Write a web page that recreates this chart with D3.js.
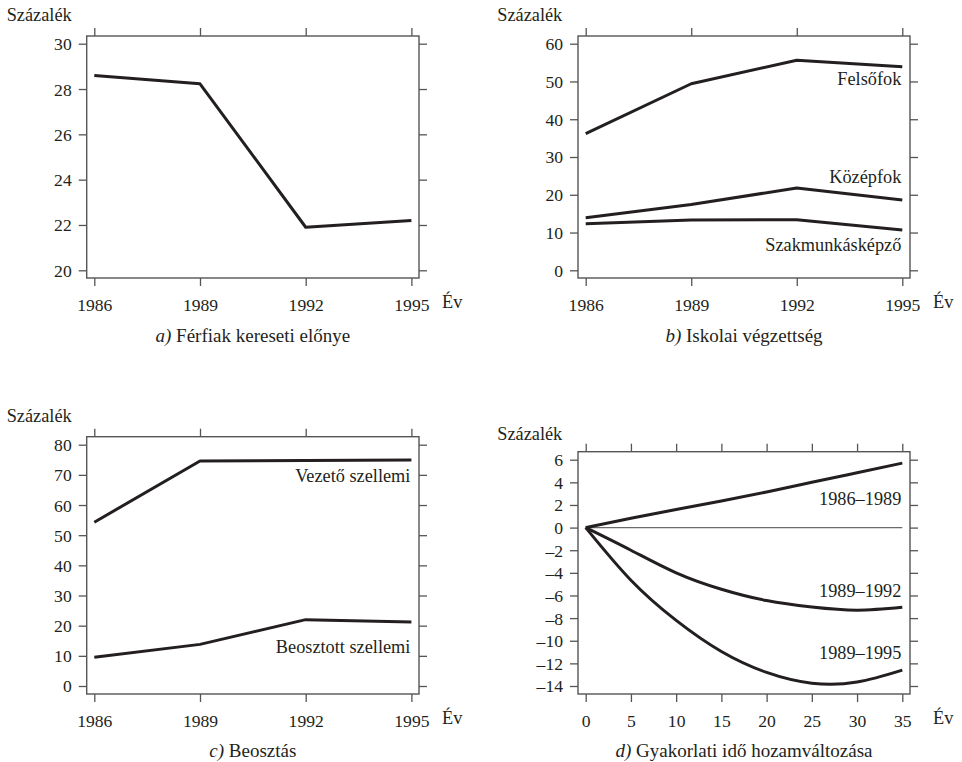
<!DOCTYPE html>
<html>
<head>
<meta charset="utf-8">
<script src="https://cdn.jsdelivr.net/npm/d3@7"></script>
<style>
  html, body { margin: 0; padding: 0; background: #fff; }
</style>
</head>
<body>
<svg id="chart" width="962" height="762"></svg>
<script>
// ---- data ----
const years = [1986, 1989, 1992, 1995];

// a) Férfiak kereseti előnye
const ferfiElony = [28.6, 28.23, 21.9, 22.2];

// b) Iskolai végzettség
const felsofok = [36.2, 49.4, 55.6, 53.9];
const kozepfok = [13.9, 17.4, 21.8, 18.6];
const szakmunkas = [12.3, 13.3, 13.4, 10.7];

// c) Beosztás
const vezetoSzellemi = [54.3, 74.6, 74.8, 74.9];
const beosztottSzellemi = [9.5, 13.8, 22.0, 21.2];

// d) Gyakorlati idő hozamváltozása
const gyakorlat = [0, 5, 10, 15, 20, 25, 30, 35];
const valt8689 = [0, 0.82, 1.6, 2.35, 3.15, 4.0, 4.85, 5.7];
const valt8992 = [0, -2.0, -4.0, -5.45, -6.45, -7.02, -7.3, -7.05];
const valt8995 = [0, -4.65, -8.2, -10.95, -12.8, -13.75, -13.65, -12.6];

// tick labels
const yTicksA = [20, 22, 24, 26, 28, 30];
const yTicksB = [0, 10, 20, 30, 40, 50, 60];
const yTicksC = [0, 10, 20, 30, 40, 50, 60, 70, 80];
const yTicksD = [-14, -12, -10, -8, -6, -4, -2, 0, 2, 4, 6];
const xTicksD = [0, 5, 10, 15, 20, 25, 30, 35];

const yLabel = "Százalék";
const xLabel = "Év";

// ---- drawing ----
const SERIF = "'Liberation Serif'";
const svg = d3.select("#chart");
const INK = "#231f20";
const FRAME = "#555";
const FS_TICK = 17.6;   // tick numbers
const FS_TEXT = 18.3;   // axis titles and line labels
const FS_CAP = 19;      // panel captions

function txt(sel, size) {
  return sel.style("font-family", SERIF).style("font-size", size + "px").attr("fill", INK);
}

function panel(opt) {
  const g = svg.append("g");
  const f = opt.frame; // frame box {x0, y0, x1, y1}
  const pad = opt.pad;
  const x = d3.scaleLinear().domain(opt.xDomain).range([f.x0 + pad.x, f.x1 - pad.x]);
  const y = d3.scaleLinear().domain(opt.yDomain).range([f.y1 - pad.y, f.y0 + pad.y]);

  // ticks on all four sides, pointing outward
  const T = 8;
  const axisStyle = sel => {
    sel.attr("font-family", null).attr("font-size", null);
    sel.select(".domain").remove();
    sel.selectAll(".tick line").attr("stroke", FRAME).attr("stroke-width", 1.3);
    txt(sel.selectAll(".tick text"), FS_TICK);
  };
  g.append("g").attr("transform", `translate(${f.x0},0)`)
    .call(d3.axisLeft(y).tickValues(opt.yTicks).tickSize(T).tickPadding(7)
      .tickFormat(d => d < 0 ? "–" + Math.abs(d) : String(d)))
    .call(axisStyle)
    .selectAll(".tick text").attr("dy", "0.34em");
  g.append("g").attr("transform", `translate(${f.x1},0)`)
    .call(d3.axisRight(y).tickValues(opt.yTicks).tickSize(T).tickFormat(""))
    .call(axisStyle);
  g.append("g").attr("transform", `translate(0,${f.y1})`)
    .call(d3.axisBottom(x).tickValues(opt.xTicks).tickSize(T).tickPadding(13)
      .tickFormat(d => String(d)))
    .call(axisStyle);
  g.append("g").attr("transform", `translate(0,${f.y0})`)
    .call(d3.axisTop(x).tickValues(opt.xTicks).tickSize(T).tickFormat(""))
    .call(axisStyle);

  // frame
  g.append("rect")
    .attr("x", f.x0).attr("y", f.y0)
    .attr("width", f.x1 - f.x0).attr("height", f.y1 - f.y0)
    .attr("fill", "none").attr("stroke", FRAME).attr("stroke-width", 1.4);

  // reference line
  if (opt.zeroLine) {
    g.append("line")
      .attr("x1", x(opt.xDomain[0])).attr("x2", x(opt.xDomain[1]))
      .attr("y1", y(0)).attr("y2", y(0))
      .attr("stroke", "#6a6a6a").attr("stroke-width", 1.2);
  }

  // series
  const line = d3.line().x(d => x(d[0])).y(d => y(d[1])).curve(opt.curve || d3.curveLinear);
  opt.series.forEach(s => {
    g.append("path")
      .datum(opt.xs.map((v, i) => [v, s.values[i]]))
      .attr("d", line)
      .attr("fill", "none").attr("stroke", INK)
      .attr("stroke-width", 3).attr("stroke-linejoin", "round");
    if (s.label) {
      txt(g.append("text"), FS_TEXT)
        .attr("x", x(opt.xDomain[1]) - 1)
        .attr("y", y(s.labelAt))
        .attr("text-anchor", "end")
        .text(s.label);
    }
  });

  // axis titles
  txt(g.append("text"), FS_TEXT).attr("x", opt.yTitle.x).attr("y", opt.yTitle.y).text(yLabel);
  txt(g.append("text"), FS_TEXT).attr("x", f.x1 + 23).attr("y", f.y1 + 30).text(xLabel);

  // caption
  const cap = txt(g.append("text"), FS_CAP)
    .attr("x", (f.x0 + f.x1) / 2).attr("y", opt.captionY)
    .attr("text-anchor", "middle");
  cap.append("tspan").style("font-style", "italic").text(opt.captionLetter);
  cap.append("tspan").text(" " + opt.caption);
}

panel({
  frame: { x0: 86.7, y0: 36, x1: 419, y1: 278 },
  pad: { x: 7.6, y: 7.7 },
  xDomain: [1986, 1995], yDomain: [20, 30],
  xs: years, xTicks: years, yTicks: yTicksA,
  series: [{ values: ferfiElony }],
  yTitle: { x: 6.7, y: 21 },
  captionY: 342, captionLetter: "a)", caption: "Férfiak kereseti előnye"
});

panel({
  frame: { x0: 578, y0: 36, x1: 910, y1: 278 },
  pad: { x: 7.7, y: 7.7 },
  xDomain: [1986, 1995], yDomain: [0, 60],
  xs: years, xTicks: years, yTicks: yTicksB,
  series: [
    { values: felsofok, label: "Felsőfok", labelAt: 49 },
    { values: kozepfok, label: "Középfok", labelAt: 23 },
    { values: szakmunkas, label: "Szakmunkásképző", labelAt: 5.1 }
  ],
  yTitle: { x: 497.3, y: 21 },
  captionY: 342, captionLetter: "b)", caption: "Iskolai végzettség"
});

panel({
  frame: { x0: 86.7, y0: 436.7, x1: 419, y1: 694 },
  pad: { x: 7.6, y: 8 },
  xDomain: [1986, 1995], yDomain: [0, 80],
  xs: years, xTicks: years, yTicks: yTicksC,
  series: [
    { values: vezetoSzellemi, label: "Vezető szellemi", labelAt: 67.6 },
    { values: beosztottSzellemi, label: "Beosztott szellemi", labelAt: 11 }
  ],
  yTitle: { x: 6.7, y: 421.7 },
  captionY: 756.7, captionLetter: "c)", caption: "Beosztás"
});

panel({
  frame: { x0: 578, y0: 451.7, x1: 910, y1: 694 },
  pad: { x: 7.7, y: 8 },
  xDomain: [0, 35], yDomain: [-14, 6],
  xs: gyakorlat, xTicks: xTicksD, yTicks: yTicksD,
  zeroLine: true,
  curve: d3.curveNatural,
  series: [
    { values: valt8689, label: "1986–1989", labelAt: 1.98 },
    { values: valt8992, label: "1989–1992", labelAt: -6.1 },
    { values: valt8995, label: "1989–1995", labelAt: -11.65 }
  ],
  yTitle: { x: 497.3, y: 440 },
  captionY: 756.7, captionLetter: "d)", caption: "Gyakorlati idő hozamváltozása"
});
</script>
</body>
</html>
